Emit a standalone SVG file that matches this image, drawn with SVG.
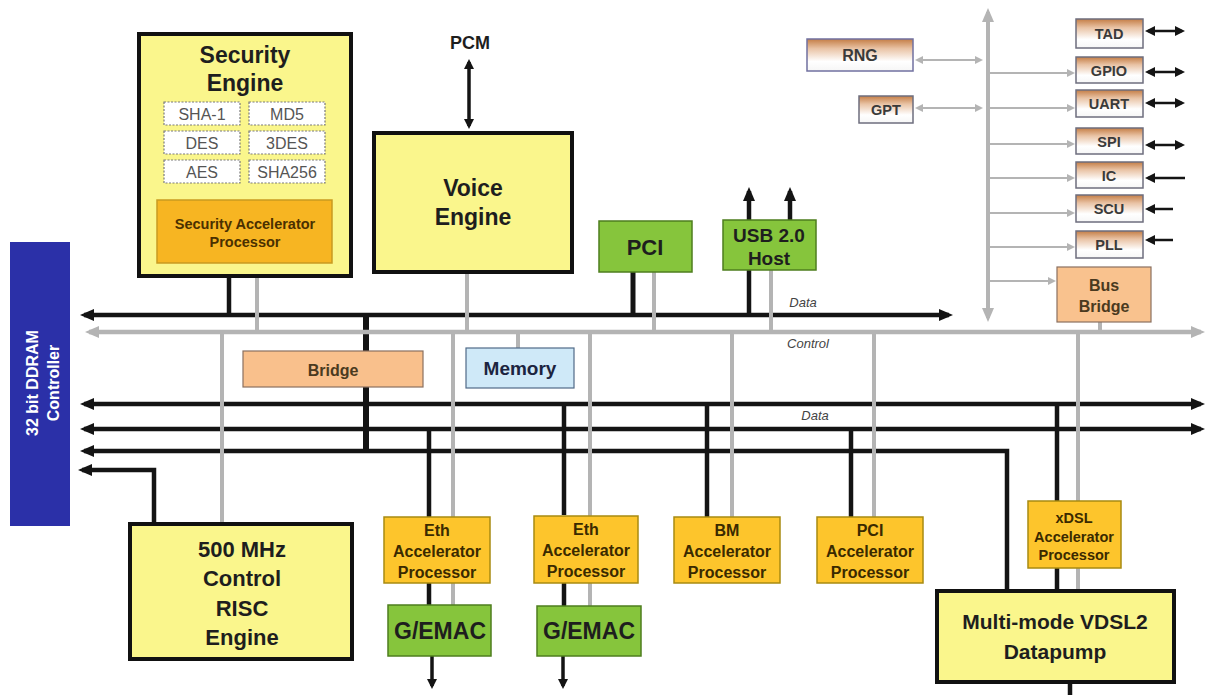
<svg xmlns="http://www.w3.org/2000/svg" width="1205" height="695" viewBox="0 0 1205 695">
<style>
.bk{stroke:#141414;stroke-width:4.5;fill:none}
.gy{stroke:#B4B4B4;stroke-width:4;fill:none}
.gt{stroke:#B4B4B4;stroke-width:2;fill:none}
.big{fill:#FAF68C;stroke:#111;stroke-width:4}
.acc{fill:#FDC52C;stroke:#A88A10;stroke-width:1.5}
.grn{fill:#86C53C;stroke:#4E7E1E;stroke-width:1.5}
.per{fill:url(#pg);stroke:#6E6E7E;stroke-width:1.5}
.dsh{fill:#FFFFFF;stroke:#7A7A7A;stroke-width:1.2;stroke-dasharray:2 1.5}
text{font-family:"Liberation Sans",Arial,sans-serif;text-anchor:middle}
.b{font-weight:bold;fill:#1E1E1E}
.lab{font-style:italic;font-size:13px;fill:#444}
</style>
<defs>
<linearGradient id="pg" x1="0" y1="0" x2="0" y2="1">
<stop offset="0" stop-color="#C47D45"/>
<stop offset="0.3" stop-color="#E9C3A5"/>
<stop offset="0.7" stop-color="#FFFFFF"/>
<stop offset="1" stop-color="#F6F6F6"/>
</linearGradient>
<marker id="ab" viewBox="0 0 14 12" refX="10" refY="6" markerWidth="14" markerHeight="12" orient="auto-start-reverse" markerUnits="userSpaceOnUse"><path d="M0,0 L14,6 L0,12 z" fill="#141414"/></marker>
<marker id="ag" viewBox="0 0 14 12" refX="10" refY="6" markerWidth="14" markerHeight="12" orient="auto-start-reverse" markerUnits="userSpaceOnUse"><path d="M0,0 L14,6 L0,12 z" fill="#B4B4B4"/></marker>
<marker id="as" viewBox="0 0 8 8" refX="6" refY="4" markerWidth="8" markerHeight="8" orient="auto-start-reverse" markerUnits="userSpaceOnUse"><path d="M0,0 L8,4 L0,8 z" fill="#B4B4B4"/></marker>
<marker id="ak" viewBox="0 0 10 10" refX="7" refY="5" markerWidth="10" markerHeight="10" orient="auto-start-reverse" markerUnits="userSpaceOnUse"><path d="M0,0 L10,5 L0,10 z" fill="#141414"/></marker>
</defs>

<g id="connectors">
<!-- black data buses -->
<path class="bk" d="M84,315 H949" marker-start="url(#ab)" marker-end="url(#ab)"/>
<path class="bk" d="M84,404 H1201" marker-start="url(#ab)" marker-end="url(#ab)"/>
<path class="bk" d="M84,429 H1201" marker-start="url(#ab)" marker-end="url(#ab)"/>
<path class="bk" d="M84,451 H1007 V590" marker-start="url(#ab)"/>
<path class="bk" d="M82,470 H154 V523" marker-start="url(#ab)"/>
<path class="bk" d="M229,277 V315"/>
<path class="bk" d="M366,313 V452" style="stroke-width:6"/>
<path class="bk" d="M633,272 V315" style="stroke-width:5"/>
<path class="bk" d="M749,270 V315"/>
<path class="bk" d="M749,220 V191" marker-end="url(#ab)"/>
<path class="bk" d="M790,220 V191" marker-end="url(#ab)"/>
<path class="bk" d="M469,126 V62" style="stroke-width:3.5" marker-start="url(#ak)" marker-end="url(#ak)"/>
<path class="bk" d="M429,429 V517 M429,583 V605"/>
<path class="bk" d="M432,656 V686" style="stroke-width:3.5" marker-end="url(#ak)"/>
<path class="bk" d="M564,404 V515 M564,583 V606"/>
<path class="bk" d="M563,656 V686" style="stroke-width:3.5" marker-end="url(#ak)"/>
<path class="bk" d="M707,404 V517"/>
<path class="bk" d="M851,429 V517"/>
<path class="bk" d="M1057,404 V590"/>
<path class="bk" d="M1070,683 V695"/>
<!-- peripheral external lines -->
<path class="bk" d="M1148,31 H1182" style="stroke-width:2.5" marker-start="url(#ak)" marker-end="url(#ak)"/>
<path class="bk" d="M1148,72 H1182" style="stroke-width:2.5" marker-start="url(#ak)" marker-end="url(#ak)"/>
<path class="bk" d="M1148,103 H1182" style="stroke-width:2.5" marker-start="url(#ak)" marker-end="url(#ak)"/>
<path class="bk" d="M1148,145 H1182" style="stroke-width:2.5" marker-start="url(#ak)" marker-end="url(#ak)"/>
<path class="bk" d="M1148,178 H1185" style="stroke-width:2.5" marker-start="url(#ak)"/>
<path class="bk" d="M1148,209 H1173" style="stroke-width:2.5" marker-start="url(#ak)"/>
<path class="bk" d="M1148,240 H1173" style="stroke-width:2.5" marker-start="url(#ak)"/>
<!-- gray control -->
<path class="gy" d="M89,332 H1201" style="stroke-width:4.5" marker-start="url(#ag)" marker-end="url(#ag)"/>
<path class="gy" d="M257,277 V332"/>
<path class="gy" d="M222,332 V523"/>
<path class="gy" d="M467,273 V332"/>
<path class="gy" d="M518,332 V348"/>
<path class="gy" d="M453,332 V605"/>
<path class="gy" d="M590,332 V606"/>
<path class="gy" d="M654,272 V332"/>
<path class="gy" d="M771,270 V332"/>
<path class="gy" d="M732,332 V517"/>
<path class="gy" d="M874,332 V517"/>
<path class="gy" d="M1078,332 V590"/>
<path class="gy" d="M1100,322 V332"/>
<!-- peripheral bus -->
<path class="gy" d="M988,12 V318" marker-start="url(#ag)" marker-end="url(#ag)"/>
<path class="gt" d="M917,60 H981" marker-start="url(#as)" marker-end="url(#as)"/>
<path class="gt" d="M917,108 H981" marker-start="url(#as)" marker-end="url(#as)"/>
<path class="gt" d="M990,73 H1073" marker-end="url(#as)"/>
<path class="gt" d="M990,108 H1073" marker-end="url(#as)"/>
<path class="gt" d="M990,144 H1073" marker-end="url(#as)"/>
<path class="gt" d="M990,178 H1073" marker-end="url(#as)"/>
<path class="gt" d="M990,213 H1073" marker-end="url(#as)"/>
<path class="gt" d="M990,247 H1073" marker-end="url(#as)"/>
<path class="gt" d="M990,281 H1054" marker-end="url(#as)"/>
<!-- bus labels -->
<text class="lab" x="803" y="307">Data</text>
<text class="lab" x="808" y="348">Control</text>
<text class="lab" x="815" y="420">Data</text>
<text class="b" x="470" y="49" style="font-size:18px">PCM</text>
</g>

<g id="ddram">
<rect x="10" y="242" width="60" height="284" fill="#2B30A8"/>
<g transform="translate(38,383) rotate(-90)"><text x="0" y="0" style="font-size:16px;font-weight:bold;fill:#fff">32 bit DDRAM</text></g>
<g transform="translate(59,383) rotate(-90)"><text x="0" y="0" style="font-size:16px;font-weight:bold;fill:#fff">Controller</text></g>
</g>

<g id="security-engine">
<rect class="big" x="139" y="34" width="212" height="242"/>
<text class="b" x="245" y="63" style="font-size:23px">Security</text>
<text class="b" x="245" y="91" style="font-size:23px">Engine</text>
<rect class="dsh" x="164" y="102" width="76" height="23"/>
<rect class="dsh" x="249" y="102" width="76" height="23"/>
<rect class="dsh" x="164" y="131" width="76" height="23"/>
<rect class="dsh" x="249" y="131" width="76" height="23"/>
<rect class="dsh" x="164" y="160" width="76" height="23"/>
<rect class="dsh" x="249" y="160" width="76" height="23"/>
<g style="font-size:16px;fill:#555">
<text x="202" y="120">SHA-1</text><text x="287" y="120">MD5</text>
<text x="202" y="149">DES</text><text x="287" y="149">3DES</text>
<text x="202" y="178">AES</text><text x="287" y="178">SHA256</text>
</g>
<rect x="157" y="200" width="175" height="63" fill="#F7B522" stroke="#C99A20" stroke-width="1.5"/>
<text class="b" x="245" y="229" style="font-size:14.5px;fill:#4A3000">Security Accelerator</text>
<text class="b" x="245" y="247" style="font-size:14.5px;fill:#4A3000">Processor</text>
</g>

<g id="voice-engine">
<rect class="big" x="374" y="133" width="198" height="139"/>
<text class="b" x="473" y="196" style="font-size:23px">Voice</text>
<text class="b" x="473" y="225" style="font-size:23px">Engine</text>
</g>

<g id="pci">
<rect class="grn" x="599" y="221" width="93" height="51"/>
<text class="b" x="645" y="255" style="font-size:22px">PCI</text>
</g>

<g id="usb">
<rect class="grn" x="723" y="220" width="93" height="50"/>
<text class="b" x="769" y="242" style="font-size:19px">USB 2.0</text>
<text class="b" x="769" y="265" style="font-size:19px">Host</text>
</g>

<g id="bridge">
<rect x="243" y="351" width="180" height="36" fill="#F9C08C" stroke="#8A7060" stroke-width="1.2"/>
<text class="b" x="333" y="376" style="font-size:16px;fill:#4A3A20">Bridge</text>
</g>

<g id="memory">
<rect x="466" y="348" width="108" height="40" fill="#CFE9F8" stroke="#506A88" stroke-width="1.2"/>
<text class="b" x="520" y="375" style="font-size:19px;fill:#1C2440">Memory</text>
</g>

<g id="risc">
<rect class="big" x="130" y="524" width="222" height="135"/>
<text class="b" x="242" y="557" style="font-size:22px">500 MHz</text>
<text class="b" x="242" y="586" style="font-size:22px">Control</text>
<text class="b" x="242" y="616" style="font-size:22px">RISC</text>
<text class="b" x="242" y="645" style="font-size:22px">Engine</text>
</g>

<g id="eth1">
<rect class="acc" x="384" y="517" width="106" height="66"/>
<text class="b" x="437" y="536" style="font-size:16px;fill:#3A2A00">Eth</text>
<text class="b" x="437" y="557" style="font-size:16px;fill:#3A2A00">Accelerator</text>
<text class="b" x="437" y="578" style="font-size:16px;fill:#3A2A00">Processor</text>
</g>
<g id="eth2">
<rect class="acc" x="534" y="516" width="104" height="67"/>
<text class="b" x="586" y="535" style="font-size:16px;fill:#3A2A00">Eth</text>
<text class="b" x="586" y="556" style="font-size:16px;fill:#3A2A00">Accelerator</text>
<text class="b" x="586" y="577" style="font-size:16px;fill:#3A2A00">Processor</text>
</g>
<g id="bm">
<rect class="acc" x="674" y="517" width="106" height="66"/>
<text class="b" x="727" y="536" style="font-size:16px;fill:#3A2A00">BM</text>
<text class="b" x="727" y="557" style="font-size:16px;fill:#3A2A00">Accelerator</text>
<text class="b" x="727" y="578" style="font-size:16px;fill:#3A2A00">Processor</text>
</g>
<g id="pci-acc">
<rect class="acc" x="817" y="517" width="106" height="66"/>
<text class="b" x="870" y="536" style="font-size:16px;fill:#3A2A00">PCI</text>
<text class="b" x="870" y="557" style="font-size:16px;fill:#3A2A00">Accelerator</text>
<text class="b" x="870" y="578" style="font-size:16px;fill:#3A2A00">Processor</text>
</g>
<g id="xdsl">
<rect class="acc" x="1028" y="501" width="93" height="67"/>
<text class="b" x="1074" y="523" style="font-size:14.5px;fill:#3A2A00">xDSL</text>
<text class="b" x="1074" y="542" style="font-size:14.5px;fill:#3A2A00">Accelerator</text>
<text class="b" x="1074" y="560" style="font-size:14.5px;fill:#3A2A00">Processor</text>
</g>

<g id="gemac1">
<rect class="grn" x="388" y="605" width="103" height="51"/>
<text class="b" x="440" y="639" style="font-size:23px">G/EMAC</text>
</g>
<g id="gemac2">
<rect class="grn" x="537" y="606" width="104" height="50"/>
<text class="b" x="589" y="639" style="font-size:23px">G/EMAC</text>
</g>

<g id="vdsl2">
<rect class="big" x="937" y="591" width="237" height="91"/>
<text class="b" x="1055" y="629" style="font-size:21px">Multi-mode VDSL2</text>
<text class="b" x="1055" y="659" style="font-size:21px">Datapump</text>
</g>

<g id="rng">
<rect class="per" x="807" y="39" width="106" height="32" style="stroke:#7070A0"/>
<text class="b" x="860" y="61" style="font-size:16px;fill:#3A3A3A">RNG</text>
</g>
<g id="gpt">
<rect class="per" x="859" y="96" width="54" height="27"/>
<text class="b" x="886" y="115" style="font-size:14.5px;fill:#3A3A3A">GPT</text>
</g>
<g id="tad"><rect class="per" x="1076" y="19" width="67" height="29"/><text class="b" x="1109" y="39" style="font-size:14.5px;fill:#3A3A3A">TAD</text></g>
<g id="gpio"><rect class="per" x="1076" y="57" width="67" height="26"/><text class="b" x="1109" y="76" style="font-size:14.5px;fill:#3A3A3A">GPIO</text></g>
<g id="uart"><rect class="per" x="1076" y="90" width="67" height="27"/><text class="b" x="1109" y="109" style="font-size:14.5px;fill:#3A3A3A">UART</text></g>
<g id="spi"><rect class="per" x="1076" y="128" width="67" height="26"/><text class="b" x="1109" y="147" style="font-size:14.5px;fill:#3A3A3A">SPI</text></g>
<g id="ic"><rect class="per" x="1076" y="162" width="67" height="26"/><text class="b" x="1109" y="181" style="font-size:14.5px;fill:#3A3A3A">IC</text></g>
<g id="scu"><rect class="per" x="1076" y="195" width="67" height="27"/><text class="b" x="1109" y="214" style="font-size:14.5px;fill:#3A3A3A">SCU</text></g>
<g id="pll"><rect class="per" x="1076" y="231" width="67" height="27"/><text class="b" x="1109" y="250" style="font-size:14.5px;fill:#3A3A3A">PLL</text></g>
<g id="bus-bridge">
<rect x="1057" y="267" width="94" height="55" fill="#F9C28E" stroke="#8A7060" stroke-width="1.2"/>
<text class="b" x="1104" y="291" style="font-size:16px;fill:#4A3A20">Bus</text>
<text class="b" x="1104" y="312" style="font-size:16px;fill:#4A3A20">Bridge</text>
</g>
</svg>
